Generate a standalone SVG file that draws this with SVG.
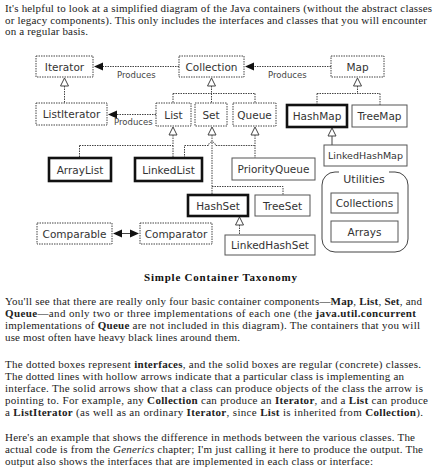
<svg xmlns="http://www.w3.org/2000/svg" width="436" height="475" viewBox="0 0 436 475">
<style>
.p{font-family:"Liberation Serif","Times New Roman",serif;font-size:11px;fill:#222}
.b{font-weight:bold}
.cap{font-family:"Liberation Serif",serif;font-size:11px;font-weight:bold;fill:#111}
.lbl{font-family:"DejaVu Sans",Verdana,sans-serif;font-size:10.5px;fill:#333;text-anchor:middle}
.prod{font-family:"DejaVu Sans",Verdana,sans-serif;font-size:8.5px;fill:#444}
.intf{fill:#fff;stroke:#444;stroke-width:1;stroke-dasharray:1.5 1}
.cls{fill:#fff;stroke:#555;stroke-width:1}
.main{fill:#fff;stroke:#111;stroke-width:2.6}
.dl{fill:none;stroke:#444;stroke-width:1;stroke-dasharray:1.5 1}
.sl{fill:none;stroke:#444;stroke-width:1}
.tri{fill:#fff;stroke:#444;stroke-width:1}
.ah{fill:#111}
</style>
<rect width="436" height="475" fill="#fff"/>

<text class="p" x="5" y="12" textLength="427">It's helpful to look at a simplified diagram of the Java containers (without the abstract classes</text>
<text class="p" x="5" y="24" textLength="422">or legacy components). This only includes the interfaces and classes that you will encounter</text>
<text class="p" x="5" y="35" textLength="83">on a regular basis.</text>

<g id="connectors">
  <line class="dl" x1="179" y1="66.5" x2="100" y2="66.5"/>
  <polygon class="ah" points="94,66.5 103,62.5 103,70.5"/>
  <line class="dl" x1="156" y1="114.5" x2="114" y2="114.5"/>
  <polygon class="ah" points="108,114.5 117,110.5 117,118.5"/>
  <line class="dl" x1="331" y1="66.5" x2="251" y2="66.5"/>
  <polygon class="ah" points="245,66.5 254,62.5 254,70.5"/>
  <text class="prod" x="117" y="78">Produces</text>
  <text class="prod" x="114" y="125">Produces</text>
  <text class="prod" x="268" y="78">Produces</text>
  <line class="dl" x1="64.5" y1="86" x2="64.5" y2="103"/>
  <polygon class="tri" points="64.5,78 60.5,86 68.5,86"/>
  <path class="dl" d="M211.5,86 V93.5 M173,93.5 H255 M173,93.5 V103 M211.5,93.5 V103 M255,93.5 V103"/>
  <polygon class="tri" points="211.5,78 207.5,86 215.5,86"/>
  <path class="dl" d="M357.5,86 V93.5 M317,93.5 H380 M317,93.5 V105 M380,93.5 V105"/>
  <polygon class="tri" points="357.5,78 353.5,86 361.5,86"/>
  <path class="dl" d="M173,135 V145.5 M79.5,145.5 H173 M79.5,145.5 V158 M173,145.5 V158"/>
  <polygon class="tri" points="173,127 169,135 177,135"/>
  <path class="dl" d="M255,135 V158 M184.5,158 V145.5 H208.5 A3.5,3.5 0 0 1 215.5,145.5 H255"/>
  <polygon class="tri" points="255,127 251,135 259,135"/>
  <path class="dl" d="M212,135 V195 M212,186.5 H283 V195"/>
  <polygon class="tri" points="212,127 208,135 216,135"/>
  <line class="sl" x1="332" y1="136" x2="332" y2="145"/>
  <polygon class="tri" points="332,128 328,136 336,136"/>
  <line class="dl" x1="239.5" y1="225" x2="239.5" y2="235"/>
  <polygon class="tri" points="239.5,217 235.5,225 243.5,225"/>
  <line class="sl" x1="118" y1="233.5" x2="134" y2="233.5"/>
  <polygon class="ah" points="113,233.5 122,229.5 122,237.5"/>
  <polygon class="ah" points="139,233.5 130,229.5 130,237.5"/>
</g>

<g id="Iterator"><rect class="intf" x="36" y="56" width="57" height="21"/><text class="lbl" x="64.5" y="70.5">Iterator</text></g>
<g id="Collection"><rect class="intf" x="179" y="56" width="65" height="21"/><text class="lbl" x="211.5" y="70.5">Collection</text></g>
<g id="Map"><rect class="intf" x="331" y="56" width="53" height="21"/><text class="lbl" x="357.5" y="70.5">Map</text></g>
<g id="ListIterator"><rect class="intf" x="36" y="103" width="71" height="22"/><text class="lbl" x="71.5" y="118">ListIterator</text></g>
<g id="List"><rect class="intf" x="156" y="103" width="35" height="23"/><text class="lbl" x="173.5" y="118.5">List</text></g>
<g id="Set"><rect class="intf" x="195" y="103" width="32" height="23"/><text class="lbl" x="211" y="118.5">Set</text></g>
<g id="Queue"><rect class="intf" x="233" y="103" width="43" height="23"/><text class="lbl" x="254.5" y="118.5">Queue</text></g>
<g id="HashMap"><rect class="main" x="287" y="105" width="60" height="22"/><text class="lbl" x="317" y="120">HashMap</text></g>
<g id="TreeMap"><rect class="cls" x="352" y="105" width="55" height="22"/><text class="lbl" x="379.5" y="120">TreeMap</text></g>
<g id="LinkedHashMap"><rect class="cls" x="324" y="145" width="83" height="21"/><text class="lbl" x="365.5" y="159" style="font-size:9.5px">LinkedHashMap</text></g>
<g id="ArrayList"><rect class="main" x="49" y="158" width="62" height="23"/><text class="lbl" x="80" y="173.5">ArrayList</text></g>
<g id="LinkedList"><rect class="main" x="135" y="158" width="67" height="23"/><text class="lbl" x="168.5" y="173.5">LinkedList</text></g>
<g id="PriorityQueue"><rect class="cls" x="232" y="158" width="83" height="22"/><text class="lbl" x="273.5" y="173">PriorityQueue</text></g>
<g id="HashSet"><rect class="main" x="188" y="195" width="60" height="21"/><text class="lbl" x="218" y="209.5">HashSet</text></g>
<g id="TreeSet"><rect class="cls" x="255" y="195" width="55" height="21"/><text class="lbl" x="282.5" y="209.5">TreeSet</text></g>
<g id="LinkedHashSet"><rect class="cls" x="225" y="235" width="90" height="20"/><text class="lbl" x="270" y="249">LinkedHashSet</text></g>
<g id="Comparable"><rect class="intf" x="37" y="223" width="75" height="21"/><text class="lbl" x="74.5" y="237.5">Comparable</text></g>
<g id="Comparator"><rect class="intf" x="140" y="223" width="72" height="21"/><text class="lbl" x="176" y="237.5">Comparator</text></g>
<g id="Utilities">
  <rect x="322" y="172" width="86" height="80" rx="13" fill="#fff" stroke="#444" stroke-width="1"/>
  <rect x="339" y="168" width="50" height="8" fill="#fff"/>
  <text class="lbl" x="364" y="183" style="font-size:11px">Utilities</text>
</g>
<g id="Collections"><rect class="cls" x="331" y="193" width="67" height="20"/><text class="lbl" x="364.5" y="207">Collections</text></g>
<g id="Arrays"><rect class="cls" x="331" y="221" width="67" height="21"/><text class="lbl" x="364.5" y="235.5">Arrays</text></g>

<text class="cap" x="220.5" y="281" text-anchor="middle" textLength="153">Simple Container Taxonomy</text>

<text class="p" x="5" y="305" textLength="417">You'll see that there are really only four basic container components—<tspan class="b">Map</tspan>, <tspan class="b">List</tspan>, <tspan class="b">Set</tspan>, and</text>
<text class="p" x="5" y="317" textLength="411"><tspan class="b">Queue—</tspan>and only two or three implementations of each one (the <tspan class="b">java.util.concurrent</tspan></text>
<text class="p" x="5" y="329" textLength="415">implementations of <tspan class="b">Queue</tspan> are not included in this diagram). The containers that you will</text>
<text class="p" x="5" y="341" textLength="235">use most often have heavy black lines around them.</text>

<text class="p" x="5" y="368" textLength="416">The dotted boxes represent <tspan class="b">interfaces</tspan>, and the solid boxes are regular (concrete) classes.</text>
<text class="p" x="5" y="380" textLength="399">The dotted lines with hollow arrows indicate that a particular class is implementing an</text>
<text class="p" x="5" y="392" textLength="418">interface. The solid arrows show that a class can produce objects of the class the arrow is</text>
<text class="p" x="5" y="404" textLength="423">pointing to. For example, any <tspan class="b">Collection</tspan> can produce an <tspan class="b">Iterator</tspan>, and a <tspan class="b">List</tspan> can produce</text>
<text class="p" x="5" y="416" textLength="418">a <tspan class="b">ListIterator</tspan> (as well as an ordinary <tspan class="b">Iterator</tspan>, since <tspan class="b">List</tspan> is inherited from <tspan class="b">Collection</tspan>).</text>

<text class="p" x="5" y="441" textLength="410">Here's an example that shows the difference in methods between the various classes. The</text>
<text class="p" x="5" y="453" textLength="418">actual code is from the <tspan font-style="italic">Generics</tspan> chapter; I'm just calling it here to produce the output. The</text>
<text class="p" x="5" y="465" textLength="368">output also shows the interfaces that are implemented in each class or interface:</text>
</svg>
